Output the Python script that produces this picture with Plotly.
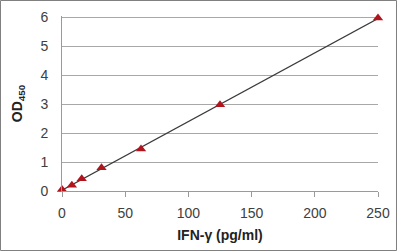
import numpy as np
import plotly.graph_objects as go

conc = [0, 7.8, 15.6, 31.25, 62.5, 125, 250]
od450 = [0.05, 0.2, 0.42, 0.8, 1.45, 2.98, 5.98]
x_ticks = [0, 50, 100, 150, 200, 250]
y_ticks = [0, 1, 2, 3, 4, 5, 6]

slope, intercept = np.polyfit(conc, od450, 1)
fit_x = [0, 250]
fit_y = [intercept + slope * v for v in fit_x]

W, H = 397, 251
ml, mr, mt, mb = 62, 19, 16, 60
pw, ph = W - ml - mr, H - mt - mb

fig = go.Figure()
fig.add_trace(go.Scatter(x=fit_x, y=fit_y, mode="lines",
                         line=dict(color="#3a3a3a", width=1.2), showlegend=False,
                         cliponaxis=False))
fig.add_trace(go.Scatter(x=conc, y=od450, mode="markers",
                         marker=dict(symbol="triangle-up", size=9, color="#b0141c"),
                         showlegend=False, cliponaxis=False))

fig.update_layout(
    width=W, height=H,
    margin=dict(l=ml, r=mr, t=mt, b=mb, autoexpand=False),
    paper_bgcolor="white", plot_bgcolor="white",
    font=dict(family="Liberation Sans, Arial", size=14, color="#404040"),
    xaxis=dict(range=[0, 250], tickvals=x_ticks, showgrid=False, automargin=False,
               showline=True, linecolor="#9a9a9a", linewidth=1,
               ticks="outside", ticklen=5, tickcolor="#9a9a9a",
               zeroline=False, ticklabelstandoff=4,
               title=dict(text="<b>IFN-γ (pg/ml)</b>", font=dict(size=14, color="#222"), standoff=10)),
    yaxis=dict(range=[0, 6.05], tickvals=y_ticks, showgrid=True, gridcolor="#a8a8a8", gridwidth=1,
               showline=True, linecolor="#9a9a9a", linewidth=1, ticks="", zeroline=False,
               ticklabelstandoff=10, automargin=False,
               title=dict(text="<b>OD<sub>450</sub></b>", font=dict(size=14, color="#222"), standoff=14)),
    shapes=[dict(type="rect", xref="paper", yref="paper",
                 x0=-ml / pw + 0.5 / pw, x1=1 + mr / pw - 0.5 / pw,
                 y0=-mb / ph + 0.5 / ph, y1=1 + mt / ph - 0.5 / ph,
                 line=dict(color="#808080", width=1), layer="below")],
)
fig.write_html("out.html")
